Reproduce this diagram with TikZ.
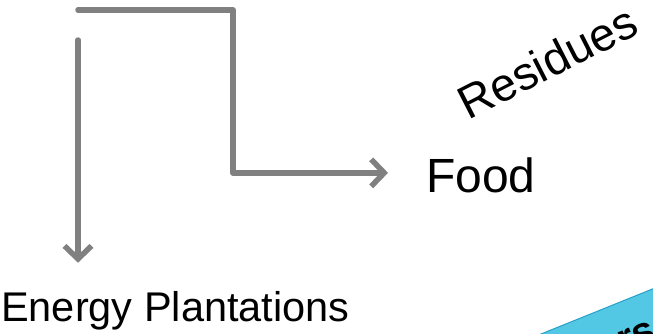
\documentclass[tikz,border=0pt]{standalone}
\usepackage{fontspec}
\setmainfont{Liberation Sans}
\usetikzlibrary{arrows.meta,positioning}
\definecolor{flowgray}{RGB}{128,128,128}
\definecolor{boxcyan}{RGB}{82,200,228}
\definecolor{boxedge}{RGB}{40,160,200}

\begin{document}
\begin{tikzpicture}[x=1pt,y=1pt,
  flow/.style={draw=flowgray,line width=5.5pt,line cap=round,line join=round,
    -{Straight Barb[length=13pt,width=27pt]}},
  label node/.style={inner sep=0pt,font=\fontsize{41.5}{41.5}\selectfont}]
  \useasboundingbox (0,0) rectangle (653,333);
  \clip (0,0) rectangle (653,333);

  \node[label node,anchor=base west] (plant) at (1,12) {Energy Plantations};
  \node[label node,anchor=base west,font=\fontsize{48}{48}\selectfont] (food) at (426,141) {Food};
  \node[label node,rotate=27,font=\fontsize{46.5}{46.5}\selectfont] (res) at (547,271) {Residues};

  % corner box, mostly off the page
  \filldraw[fill=boxcyan,draw=boxedge,line width=1pt]
    (494,-20) -- ++(22:250) -- ++(-68:100) -- ++(202:250) -- cycle;
  \node[label node,rotate=22,font=\fontsize{40}{40}\selectfont\bfseries] (other) at (637,-4) {rs};

  \coordinate (start) at (78,323);
  \coordinate (drop) at (78,293);
  \coordinate (turn) at (233,323);

  \draw[flow] (start) -- (turn) |- ([xshift=-38pt,yshift=2pt]food.west);
  \draw[flow,shorten >=28pt] (drop) -- (drop |- plant.north);
\end{tikzpicture}
\end{document}
